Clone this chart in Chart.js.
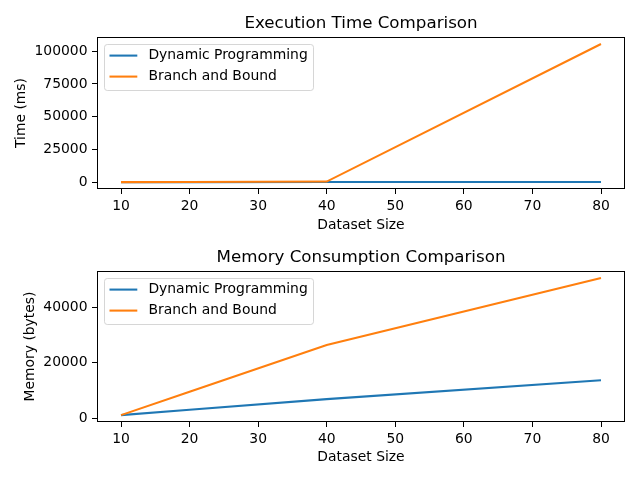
<!DOCTYPE html>
<html><head><meta charset="utf-8">
<script src="https://cdn.jsdelivr.net/npm/chart.js@4/dist/chart.umd.min.js"></script>
<style>html,body{margin:0;padding:0;background:#fff}canvas{display:block}</style>
</head><body>
<canvas id="c1" width="640" height="240"></canvas>
<canvas id="c2" width="640" height="240"></canvas>
<script>
// ---- data ----
const datasetSizes = [10, 20, 40, 80];
const seriesNames = ['Dynamic Programming', 'Branch and Bound'];
const timeDP = [2, 5, 15, 40];
const timeBB = [5, 40, 400, 105600];
const memDP = [1140, 3060, 6900, 13700];
const memBB = [1140, 9560, 26400, 50500];
const xTicks = [10, 20, 30, 40, 50, 60, 70, 80];
const timeTicks = [0, 25000, 50000, 75000, 100000];
const memTicks = [0, 20000, 40000];
const seriesColors = ['#1f77b4', '#ff7f0e'];

const FONT = "'DejaVu Sans'";
Chart.defaults.font.family = FONT;
Chart.defaults.color = '#000';

function pts(xs, ys) { return xs.map((x, i) => ({ x: x, y: ys[i] })); }
function padRange(vals) {
  const mn = Math.min(...vals), mx = Math.max(...vals), r = mx - mn;
  return [mn - 0.05 * r, mx + 0.05 * r];
}

const framePlugin = {
  id: 'frame',
  afterDatasetsDraw(chart) {
    const { ctx, chartArea: a } = chart;
    ctx.save();
    ctx.strokeStyle = '#000';
    ctx.lineWidth = 1;
    ctx.strokeRect(Math.round(a.left) + 0.5, Math.round(a.top) + 0.5,
      Math.round(a.right - a.left) - 1, Math.round(a.bottom - a.top) - 1);
    ctx.restore();
  }
};

const legendPlugin = {
  id: 'mlegend',
  afterDraw(chart) {
    const ctx = chart.ctx, a = chart.chartArea;
    const fs = 13.9;
    ctx.save();
    ctx.font = fs + 'px ' + FONT;
    const ds = chart.data.datasets;
    const tw = Math.max(...ds.map(d => ctx.measureText(d.label).width));
    const pad = 5.6, hl = 27.8, htp = 11.1, ls = 6.9, bap = 6.9, rowH = 14.1;
    const x0 = a.left + bap, y0 = a.top + bap;
    const w = pad * 2 + hl + htp + tw;
    const h = pad * 2 + rowH * ds.length + ls * (ds.length - 1);
    ctx.beginPath();
    if (ctx.roundRect) ctx.roundRect(Math.round(x0) + 0.5, Math.round(y0) + 0.5, Math.round(w), Math.round(h), 2.8);
    else ctx.rect(Math.round(x0) + 0.5, Math.round(y0) + 0.5, Math.round(w), Math.round(h));
    ctx.fillStyle = 'rgba(255,255,255,0.8)';
    ctx.fill();
    ctx.strokeStyle = 'rgba(204,204,204,0.8)';
    ctx.lineWidth = 1;
    ctx.stroke();
    ds.forEach((d, i) => {
      const cy = y0 + pad + rowH / 2 - 1 + i * (rowH + ls);
      ctx.beginPath();
      ctx.strokeStyle = d.borderColor;
      ctx.lineWidth = 2.08;
      ctx.moveTo(x0 + pad, cy);
      ctx.lineTo(x0 + pad + hl, cy);
      ctx.stroke();
      ctx.fillStyle = '#000';
      ctx.textBaseline = 'middle';
      ctx.textAlign = 'left';
      ctx.fillText(d.label, x0 + pad + hl + htp, cy);
    });
    ctx.restore();
  }
};

function makeChart(id, title, yTitle, dp, bb, yTicks, o) {
  const [ymin, ymax] = padRange(dp.concat(bb));
  const [xmin, xmax] = padRange(datasetSizes);
  return new Chart(document.getElementById(id), {
    type: 'line',
    data: {
      datasets: [
        { label: seriesNames[0], order: 1, data: pts(datasetSizes, dp), borderColor: seriesColors[0], backgroundColor: seriesColors[0], borderWidth: 2.08, pointRadius: 0, tension: 0, fill: false },
        { label: seriesNames[1], order: 0, data: pts(datasetSizes, bb), borderColor: seriesColors[1], backgroundColor: seriesColors[1], borderWidth: 2.08, pointRadius: 0, tension: 0, fill: false }
      ]
    },
    options: {
      responsive: false,
      animation: false,
      devicePixelRatio: 1,
      layout: { padding: { left: 0, right: 15, top: 0, bottom: 0 } },
      plugins: {
        legend: { display: false },
        tooltip: { enabled: false },
        title: { display: true, fullSize: false, text: title, color: '#000', font: { size: 16.7, weight: 'normal', family: FONT }, padding: { top: o.tTop, bottom: o.tBot } }
      },
      scales: {
        x: {
          type: 'linear', min: xmin, max: xmax,
          afterBuildTicks: s => { s.ticks = xTicks.map(v => ({ value: v })); },
          afterFit: s => { s.height = o.xH; },
          ticks: { autoSkip: false, maxRotation: 0, padding: 4, color: '#000', font: { size: 13.9, family: FONT }, callback: v => String(v) },
          grid: { drawOnChartArea: false, drawTicks: true, tickLength: 5, color: '#000', tickColor: '#000', lineWidth: 1 },
          border: { display: false },
          title: { display: true, text: 'Dataset Size', color: '#000', font: { size: 13.9, family: FONT }, padding: { top: 0, bottom: o.xtPad } }
        },
        y: {
          type: 'linear', min: ymin, max: ymax,
          afterBuildTicks: s => { s.ticks = yTicks.map(v => ({ value: v })); },
          afterFit: s => { s.width = 97; },
          ticks: { autoSkip: false, padding: 4.5, color: '#000', font: { size: 13.9, family: FONT }, callback: v => String(v) },
          grid: { drawOnChartArea: false, drawTicks: true, tickLength: 5, color: '#000', tickColor: '#000', lineWidth: 1 },
          border: { display: false },
          title: { display: true, text: yTitle, color: '#000', font: { size: 13.9, family: FONT }, padding: { top: o.ytPad, bottom: 0 } }
        }
      }
    },
    plugins: [framePlugin, legendPlugin]
  });
}

makeChart('c1', 'Execution Time Comparison', 'Time (ms)', timeDP, timeBB, timeTicks,
  { tTop: 14, tBot: 3, xH: 51, xtPad: 6, ytPad: 13.4 });
makeChart('c2', 'Memory Consumption Comparison', 'Memory (bytes)', memDP, memBB, memTicks,
  { tTop: 7.4, tBot: 3.6, xH: 58, xtPad: 14, ytPad: 21.7 });
</script>
</body></html>
